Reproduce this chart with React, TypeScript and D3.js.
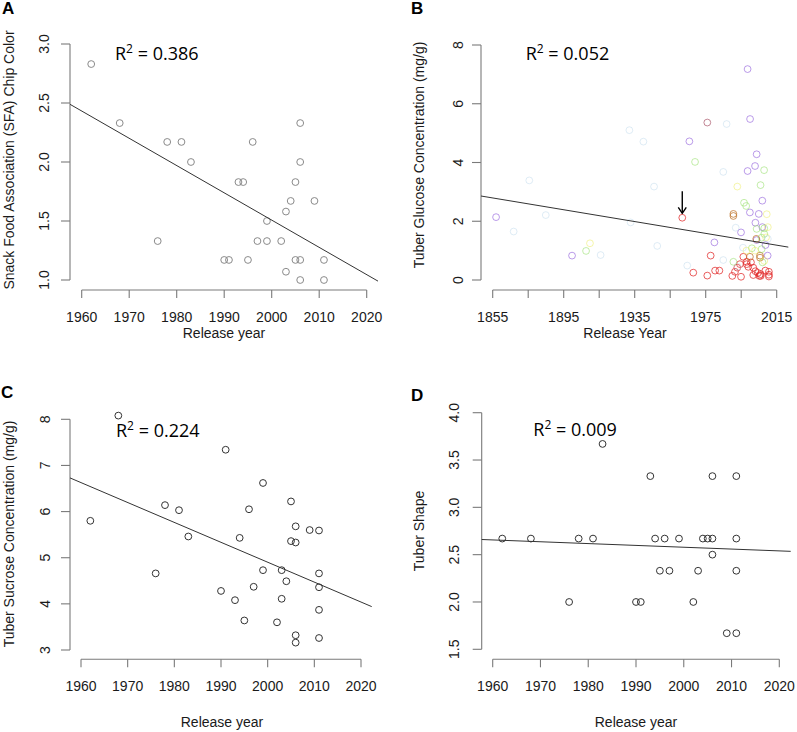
import React from "react";
import * as d3 from "d3";

// ---------- Data ----------
const yearsA = [1962,1968,1976,1978,1981,1983,1990,1991,1993,1994,1995,1996,1997,1999,1999,2002,2003,2003,2004,2005,2005,2006,2006,2006,2006,2009,2011,2011];
const chipColorA = [2.83,2.33,1.33,2.17,2.17,2.0,1.17,1.17,1.83,1.83,1.17,2.17,1.33,1.5,1.33,1.33,1.58,1.07,1.67,1.83,1.17,2.33,2.0,1.17,1.0,1.67,1.17,1.0];

const yearsB = [
  1856.9,1899.7,1965.8,1998.6,2000,2003.7,2002.8,1998.6,2006.9,1999.9,2004.9,2003,2006.9,1994.9,2003.7,2008.7,1979.9,2009.9,
  1961.8,1968,1975.9,1977.8,1980.3,1982.7,1990,1991.5,1992.8,1994.3,1994.9,1996.2,1998.1,1998.1,2000.5,2001.8,2001.8,2004.4,2005.2,2006,2006,2008.6,2010.6,2010.6,2010.6,2003,1999,
  1990.6,1990.6,2005.6,2005.6,1999.9,2003.5,
  1975.9,
  1907.6,1969,2007.9,2005.9,1996.6,1997.8,2008,2003.7,2008,2006.5,2006.5,1990.6,2007,2001,
  1909.8,1992.8,2009.4,2009,2002.8,1998,2008,2010,
  1875.6,1884.9,1866.8,1915.8,1932,1939.9,1945.9,1947.7,1932.7,1964.6,1984.9,1986.8,1984.9,1991.9,1996,1993,2010
];
const glucoseB = [
  2.14,0.83,4.72,7.18,5.48,4.28,3.88,3.71,2.70,2.30,2.25,1.95,1.80,1.62,1.36,1.19,1.28,0.83,
  2.12,0.25,0.15,0.83,0.32,0.32,0.14,0.28,0.42,0.54,0.11,0.79,0.62,0.54,0.60,0.42,0.17,0.24,0.14,0.14,0.20,0.32,0.28,0.12,0.18,0.30,0.45,
  2.25,2.18,0.83,0.76,0.79,1.40,
  5.36,
  0.99,4.02,3.74,3.23,2.63,2.52,1.76,1.74,1.57,1.44,1.05,0.62,0.60,1.08,
  1.25,3.18,2.24,1.45,1.00,1.00,0.65,1.80,
  3.39,2.21,1.65,0.85,5.10,4.71,3.18,1.16,1.96,0.49,3.68,5.31,0.68,1.78,1.10,0.45,1.40
];
const groupB = [
  ...Array(18).fill("purple"),
  ...Array(27).fill("red"),
  ...Array(6).fill("orange"),
  "mauve",
  ...Array(14).fill("green"),
  ...Array(8).fill("yellow"),
  ...Array(17).fill("blue"),
];
const groupColorsB: Record<string, string> = {
  purple: "rgba(145, 95, 220, 0.62)",
  red: "rgba(225, 35, 35, 0.72)",
  orange: "rgba(190, 115, 40, 0.75)",
  mauve: "rgba(170, 85, 105, 0.7)",
  green: "rgba(135, 220, 85, 0.5)",
  yellow: "rgba(235, 235, 90, 0.5)",
  blue: "rgba(185, 212, 232, 0.45)",
};
const arrowB = { year: 1961.8, from: 3.02, to: 2.27 };

const yearsC = [1962,1968,1976,1978,1981,1983,1990,1991,1993,1994,1995,1996,1997,1999,1999,2002,2003,2003,2004,2005,2005,2006,2006,2006,2006,2009,2011,2011,2011,2011,2011];
const sucroseC = [5.80,8.08,4.66,6.14,6.03,5.46,4.28,7.34,4.08,5.43,3.64,6.05,4.37,6.62,4.73,3.60,4.73,4.11,4.49,6.22,5.36,5.68,5.33,3.32,3.16,5.60,5.59,4.66,4.36,3.87,3.26];

const yearsD = [1962,1968,1976,1978,1981,1983,1990,1991,1993,1994,1995,1996,1997,1999,2002,2003,2004,2005,2006,2006,2006,2009,2011,2011,2011,2011];
const shapeD = [2.67,2.67,2.0,2.67,2.67,3.67,2.0,2.0,3.33,2.67,2.33,2.67,2.33,2.67,2.0,2.33,2.67,2.67,2.67,3.33,2.5,1.67,3.33,2.67,2.33,1.67];

const xTicksA = [1960,1970,1980,1990,2000,2010,2020];
const xTicksB = [1855,1875,1895,1915,1935,1955,1975,1995,2015];
const xTickLabelsB = ["1855","","1895","","1935","","1975","","2015"];
const yTicksA = [1.0,1.5,2.0,2.5,3.0];
const yTicksB = [0,2,4,6,8];
const yTicksC = [3,4,5,6,7,8];
const yTicksD = [1.5,2.0,2.5,3.0,3.5,4.0];

// regression: value = at1960 + slope * (year - 1960)
const regA = { at1960: 2.432, slope: -0.02311, r2: "0.386" };
const regB = { at1960: 1.738, slope: -0.01005, r2: "0.052" };
const regC = { at1960: 6.628, slope: -0.04314, r2: "0.224" };
const regD = { at1960: 2.6556, slope: -0.00193, r2: "0.009" };

// ---------- Panel ----------
type PanelProps = {
  letter: string;
  letterPos: [number, number];
  xDomain: [number, number];
  xRange: [number, number];
  plotX: [number, number];
  xTicks: number[];
  xTickLabels?: string[];
  xAxisY: number;
  xLabelY: number;
  xTitle: string;
  xTitleX: number;
  xTitleY: number;
  yDomain: [number, number];
  yRange: [number, number];
  yTicks: number[];
  yFmt: (v: number) => string;
  yAxisX: number;
  yLabelX: number;
  yTitle: string;
  yTitleX: number;
  yTitleY: number;
  xs: number[];
  ys: number[];
  colors: string[];
  reg: { at1960: number; slope: number; r2: string };
  r2Pos: [number, number];
  arrow?: { year: number; from: number; to: number };
};

const SANS = "'Liberation Sans', Arial, Helvetica, sans-serif";
const AXIS = "#7a7a7a";
const TEXT = "#1a1a1a";

function Panel(p: PanelProps) {
  const x = d3.scaleLinear().domain(p.xDomain).range(p.xRange);
  const y = d3.scaleLinear().domain(p.yDomain).range(p.yRange);
  const yr0 = x.invert(p.plotX[0]);
  const yr1 = x.invert(p.plotX[1]);
  const regLine = d3.line<number>()
    .x((d) => x(d))
    .y((d) => y(p.reg.at1960 + p.reg.slope * (d - 1960)));
  const yTop = y(p.yTicks[p.yTicks.length - 1]);
  const yBot = y(p.yTicks[0]);
  return (
    <g>
      <text x={p.letterPos[0]} y={p.letterPos[1]} fontFamily={SANS} fontWeight="bold" fontSize={17} fill="#000">{p.letter}</text>
      <line x1={p.yAxisX} x2={p.yAxisX} y1={yTop} y2={yBot} stroke={AXIS} strokeWidth={1.1} />
      {p.yTicks.map((t) => (
        <g key={"yt" + t}>
          <line x1={p.yAxisX - 9} x2={p.yAxisX} y1={y(t)} y2={y(t)} stroke={AXIS} strokeWidth={1.1} />
          <text transform={`translate(${p.yLabelX},${y(t)}) rotate(-90)`} textAnchor="middle" dy="0.36em" fontFamily={SANS} fontSize={14} fill={TEXT}>{p.yFmt(t)}</text>
        </g>
      ))}
      <line x1={x(p.xTicks[0])} x2={x(p.xTicks[p.xTicks.length - 1])} y1={p.xAxisY} y2={p.xAxisY} stroke={AXIS} strokeWidth={1.1} />
      {p.xTicks.map((t, i) => (
        <g key={"xt" + t}>
          <line x1={x(t)} x2={x(t)} y1={p.xAxisY} y2={p.xAxisY + 8} stroke={AXIS} strokeWidth={1.1} />
          <text x={x(t)} y={p.xLabelY} textAnchor="middle" dy="0.36em" fontFamily={SANS} fontSize={14} fill={TEXT}>
            {p.xTickLabels ? p.xTickLabels[i] : String(t)}
          </text>
        </g>
      ))}
      <text x={p.xTitleX} y={p.xTitleY} textAnchor="middle" dy="0.36em" fontFamily={SANS} fontSize={14} fill={TEXT}>{p.xTitle}</text>
      <text transform={`translate(${p.yTitleX},${p.yTitleY}) rotate(-90)`} textAnchor="middle" dy="0.36em" fontFamily={SANS} fontSize={14} fill={TEXT}>{p.yTitle}</text>
      {p.xs.map((xv, i) => (
        <circle key={"pt" + i} cx={x(xv)} cy={y(p.ys[i])} r={3.4} fill="none" stroke={p.colors[i]} strokeWidth={1} />
      ))}
      <path d={regLine([yr0, yr1]) || ""} stroke="#333" strokeWidth={1} fill="none" />
      {p.arrow && (
        <g stroke="#000" strokeWidth={1.4} fill="none">
          <line x1={x(p.arrow.year)} x2={x(p.arrow.year)} y1={y(p.arrow.from)} y2={y(p.arrow.to)} />
          <polyline points={`${x(p.arrow.year) - 4},${y(p.arrow.to) - 6} ${x(p.arrow.year)},${y(p.arrow.to)} ${x(p.arrow.year) + 4},${y(p.arrow.to) - 6}`} />
        </g>
      )}
      <text x={p.r2Pos[0]} y={p.r2Pos[1]} fontFamily="'Open Sans', Lato, sans-serif" fontSize={18} fill="#000">
        R<tspan dy={-7} fontSize={12}>2</tspan><tspan dy={7}> = {p.reg.r2}</tspan>
      </text>
    </g>
  );
}

const f1 = (v: number) => v.toFixed(1);
const f0 = (v: number) => String(v);

export default function App() {
  return (
    <svg width={797} height={732} style={{ position: "absolute", left: 0, top: 0, background: "#fff" }}>
      <rect width={797} height={732} fill="#fff" />
      <Panel
        letter="A" letterPos={[2, 14]}
        xDomain={[1960, 2020]} xRange={[81.7, 366.7]} plotX={[70, 378]}
        xTicks={xTicksA} xAxisY={290} xLabelY={316.5}
        xTitle="Release year" xTitleX={224} xTitleY={333}
        yDomain={[1, 3]} yRange={[280, 44]} yTicks={yTicksA} yFmt={f1}
        yAxisX={70} yLabelX={44} yTitle="Snack Food Association (SFA) Chip Color" yTitleX={9} yTitleY={160}
        xs={yearsA} ys={chipColorA} colors={yearsA.map(() => "#8a8a8a")}
        reg={regA} r2Pos={[115, 59.5]}
      />
      <Panel
        letter="B" letterPos={[411, 14]}
        xDomain={[1855, 2015]} xRange={[492.7, 776.7]} plotX={[481, 788.3]}
        xTicks={xTicksB} xTickLabels={xTickLabelsB} xAxisY={290} xLabelY={316.5}
        xTitle="Release Year" xTitleX={625} xTitleY={333}
        yDomain={[0, 8]} yRange={[280, 45]} yTicks={yTicksB} yFmt={f0}
        yAxisX={481} yLabelX={458} yTitle="Tuber Glucose Concentration (mg/g)" yTitleX={419} yTitleY={155}
        xs={yearsB} ys={glucoseB} colors={groupB.map((g) => groupColorsB[g])}
        reg={regB} r2Pos={[525.7, 59.5]} arrow={arrowB}
      />
      <Panel
        letter="C" letterPos={[1, 398]}
        xDomain={[1960, 2020]} xRange={[81, 361]} plotX={[70, 371.7]}
        xTicks={xTicksA} xAxisY={659.3} xLabelY={686}
        xTitle="Release year" xTitleX={222} xTitleY={721.7}
        yDomain={[3, 8]} yRange={[650, 419.3]} yTicks={yTicksC} yFmt={f0}
        yAxisX={70} yLabelX={45} yTitle="Tuber Sucrose Concentration (mg/g)" yTitleX={9} yTitleY={534}
        xs={yearsC} ys={sucroseC} colors={yearsC.map(() => "#333")}
        reg={regC} r2Pos={[116, 437.3]}
      />
      <Panel
        letter="D" letterPos={[411, 401]}
        xDomain={[1960, 2020]} xRange={[492.7, 779.3]} plotX={[481.7, 790.7]}
        xTicks={xTicksA} xAxisY={659.3} xLabelY={686}
        xTitle="Release year" xTitleX={636} xTitleY={721.7}
        yDomain={[1.5, 4.0]} yRange={[649.3, 412.7]} yTicks={yTicksD} yFmt={f1}
        yAxisX={481.7} yLabelX={453.5} yTitle="Tuber Shape" yTitleX={419} yTitleY={531}
        xs={yearsD} ys={shapeD} colors={yearsD.map(() => "#333")}
        reg={regD} r2Pos={[533.3, 436]}
      />
    </svg>
  );
}
